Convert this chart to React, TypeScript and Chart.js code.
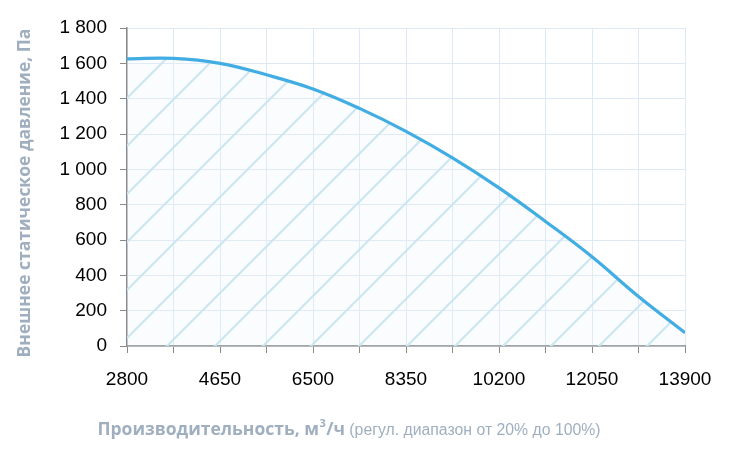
import { useEffect, useRef } from "react";
import { Chart, registerables } from "chart.js";

Chart.register(...registerables);

// производительность, м³/ч
const flowValues = [2800, 3725, 4650, 5575, 6500, 7425, 8350, 9275, 10200, 11125, 12050, 12975, 13900];
// внешнее статическое давление, Па
const pressureValues = [1625, 1628, 1600, 1535, 1455, 1345, 1215, 1065, 895, 705, 505, 280, 75];

const flowGridTicks = [2800, 3725, 4650, 5575, 6500, 7425, 8350, 9275, 10200, 11125, 12050, 12975, 13900];
const flowLabelTicks = [2800, 4650, 6500, 8350, 10200, 12050, 13900];

const yTitle = "Внешнее статическое давление, Па";
const xTitleBold = "Производительность, м";
const xTitleUnit = "/ч";
const xTitleNote = " (регул. диапазон от 20% до 100%)";

const GRAY = "#a0afbf";

function makeHatch(ctx: CanvasRenderingContext2D) {
  const size = 48;
  const c = document.createElement("canvas");
  c.width = size;
  c.height = size;
  const p = c.getContext("2d")!;
  p.fillStyle = "rgba(235,245,250,0.25)";
  p.fillRect(0, 0, size, size);
  p.strokeStyle = "#cde7f1";
  p.lineWidth = 2.2;
  for (let k = -2; k <= 2; k++) {
    const s = 33 + size * k;
    p.beginPath();
    p.moveTo(s + 20, -20);
    p.lineTo(s - size - 20, size + 20);
    p.stroke();
  }
  return ctx.createPattern(c, "repeat")!;
}

const titles = {
  id: "titles",
  afterDraw(chart: Chart) {
    const ctx = chart.ctx;
    ctx.save();
    ctx.fillStyle = GRAY;
    // Y title
    ctx.save();
    ctx.translate(25, 193);
    ctx.rotate(-Math.PI / 2);
    ctx.font = 'bold 17.5px "Open Sans"';
    ctx.textAlign = "center";
    ctx.textBaseline = "middle";
    ctx.fillText(yTitle, 0, 0);
    ctx.restore();

    // X title
    const bold = 'bold 17.5px "Open Sans"';
    const sup = 'bold 11px "Open Sans"';
    const reg = '15.8px "Liberation Sans"';
    ctx.textBaseline = "alphabetic";
    ctx.textAlign = "left";
    ctx.font = bold;
    const w1 = ctx.measureText(xTitleBold).width;
    const w3 = ctx.measureText(xTitleUnit).width;
    ctx.font = sup;
    const w2 = ctx.measureText("3").width + 1;
    ctx.font = reg;
    const w4 = ctx.measureText(xTitleNote).width;
    let x = 349 - (w1 + w2 + w3 + w4) / 2;
    const y = 435;
    ctx.font = bold;
    ctx.fillText(xTitleBold, x, y);
    x += w1;
    ctx.font = sup;
    ctx.fillText("3", x + 0.5, y - 8);
    x += w2;
    ctx.font = bold;
    ctx.fillText(xTitleUnit, x, y);
    x += w3;
    ctx.font = reg;
    ctx.fillText(xTitleNote, x, y);
    ctx.restore();
  },
};

export default function App() {
  const canvasRef = useRef<HTMLCanvasElement>(null);
  const chartRef = useRef<Chart | null>(null);

  useEffect(() => {
    if (!canvasRef.current) return;
    const ctx = canvasRef.current.getContext("2d")!;
    const tickFont = { family: '"Liberation Sans", Arial, sans-serif', size: 19 };
    chartRef.current = new Chart(canvasRef.current, {
      type: "line",
      data: {
        datasets: [
          {
            data: flowValues.map((x, i) => ({ x, y: pressureValues[i] })),
            borderColor: "#41ade3",
            borderWidth: 3.2,
            backgroundColor: makeHatch(ctx),
            fill: "origin",
            pointRadius: 0,
            tension: 0.4,
          },
        ],
      },
      plugins: [titles],
      options: {
        responsive: false,
        animation: false,
        layout: { padding: { left: 0, right: 45, top: 28, bottom: 0 } },
        plugins: { legend: { display: false }, tooltip: { enabled: false } },
        scales: {
          x: {
            type: "linear",
            min: 2800,
            max: 13900,
            afterBuildTicks: (s: any) => {
              s.ticks = flowGridTicks.map((v) => ({ value: v }));
            },
            afterFit: (s: any) => {
              s.height = 110;
            },
            ticks: {
              autoSkip: false,
              maxRotation: 0,
              padding: 15,
              color: "#000",
              font: tickFont,
              callback: (v: any) => (flowLabelTicks.includes(Number(v)) ? String(v) : ""),
            },
            grid: { color: "#dde9f4", tickColor: "#8a8a8a", tickLength: 7 },
            border: { color: "#8a8a8a", width: 1.5 },
          },
          y: {
            min: 0,
            max: 1800,
            afterFit: (s: any) => {
              s.width = 127;
            },
            ticks: {
              stepSize: 200,
              padding: 13,
              color: "#000",
              font: tickFont,
              callback: (v: any) => {
                const n = Number(v);
                return n >= 1000 ? `${Math.floor(n / 1000)} ${String(n % 1000).padStart(3, "0")}` : String(n);
              },
            },
            grid: { color: "#dde9f4", tickColor: "#8a8a8a", tickLength: 7 },
            border: { color: "#8a8a8a", width: 1.5 },
          },
        },
      },
    });
    return () => {
      chartRef.current?.destroy();
      chartRef.current = null;
    };
  }, []);

  return (
    <div style={{ position: "fixed", left: 0, top: 0, width: 730, height: 456, background: "#fff" }}>
      <canvas ref={canvasRef} width={730} height={456} />
    </div>
  );
}
